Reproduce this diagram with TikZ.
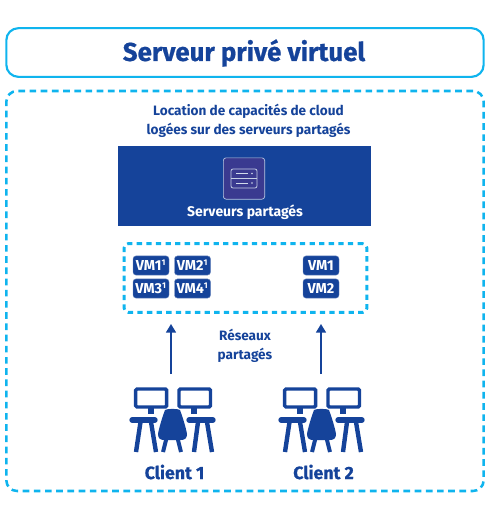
\documentclass[tikz,border=0pt]{standalone}
\usepackage{fontspec}
\setmainfont{Fira Sans}
\newfontfamily\heavyf[BoldFeatures={FakeBold=0.7}]{Fira Sans}
\usetikzlibrary{arrows.meta}
\definecolor{navy}{HTML}{15439A}
\definecolor{sky}{HTML}{0FB4EE}
\definecolor{chip}{HTML}{3A3A90}
\tikzset{
  x=0.75pt,y=-0.75pt,
  titlebox/.style={draw=sky,line width=1.6pt,rounded corners=9pt,fill=white},
  dashbox/.style={draw=sky,line width=1.9pt,dash pattern=on 5pt off 3.4pt,rounded corners=8pt},
  vm/.style={fill=navy,draw=navy!60!white,line width=0.3pt,rounded corners=2.2pt,minimum width=27pt,minimum height=14.4pt,inner sep=0pt,text=white,font=\bfseries\fontsize{10.8}{11}\selectfont},
  lbl/.style={text=navy,font=\bfseries\fontsize{10.2}{14.2}\selectfont,align=center,inner sep=0pt},
  clientlbl/.style={text=navy,font=\heavyf\bfseries\fontsize{13.3}{15}\selectfont,inner sep=0pt},
  arrowline/.style={draw=navy,line width=1.3pt,-{Triangle[length=6.5pt,width=7.5pt]}},
  iconline/.style={draw=navy,line width=3.3pt},
  chairleg/.style={draw=navy,line width=3pt},
  pics/desks/.style={code={
    \draw[draw=navy,line width=2.6pt,rounded corners=1pt] (135.7,389) rectangle (166.7,407);
    \draw[draw=navy,line width=2.6pt,rounded corners=1pt] (179,389) rectangle (210.5,407);
    \fill[navy] (148,408) rectangle (154,414);
    \fill[navy] (191,408) rectangle (197,414);
    \draw[navy,line width=4pt,line cap=round] (132,420) -- (155,420);
    \draw[navy,line width=4pt,line cap=round] (189,420) -- (213,420);
    \draw[iconline] (140.5,422) -- (136,452);
    \draw[iconline] (151,422) -- (156,452);
    \draw[iconline] (198,422) -- (194,452);
    \draw[iconline] (207,422) -- (212,452);
    \draw[chairleg] (166.5,438) -- (163,452);
    \draw[chairleg] (177.5,438) -- (181,452);
    \fill[navy] (165,410) .. controls (167,408.5) and (178,408.5) .. (180,410)
      .. controls (183,418) and (186,428) .. (187,434)
      .. controls (187,438) and (185,440) .. (181,440)
      -- (164,440) .. controls (160,440) and (158,438) .. (158,434)
      .. controls (159,428) and (162,418) .. (165,410) -- cycle;
  }}
}
\newcommand{\vmsup}[1]{#1\textsuperscript{\fontsize{6.2}{6.2}\selectfont 1}}
\begin{document}
\begin{tikzpicture}
\useasboundingbox (0,0) rectangle (490,522);
\node[titlebox,minimum width=358pt,minimum height=36.5pt,inner sep=0pt] (titlebar) at (245,52.5) {};
\node[text=navy,font=\heavyf\bfseries\fontsize{19.4}{21}\selectfont,inner sep=0pt] (title) at (244,53) {Serveur privé virtuel};
\node[dashbox,minimum width=358pt,minimum height=300pt,inner sep=0pt] (outer) at (245,291) {};
\node[lbl] (loc) at (248.5,121) {Location de capacités de cloud\\logées sur des serveurs partagés};
\node[fill=navy,minimum width=190pt,minimum height=60pt,inner sep=0pt] (servers) at (244.5,186) {};
\node[fill=chip,draw=white!70!navy,line width=0.5pt,rounded corners=2pt,minimum width=31pt,minimum height=31pt,inner sep=0pt] (chipbox) at (244,178.5) {};
\draw[white!75!navy,line width=0.6pt,rounded corners=1.5pt] (231,169) rectangle (257,188);
\draw[white!75!navy,line width=0.6pt] (231,178.5) -- (257,178.5);
\draw[white!80!navy,line width=0.6pt] (236,173.5) -- (248,173.5) (236,183) -- (248,183);
\fill[white!80!navy] (252,173.5) circle (0.9) (252,183) circle (0.9);
\node[text=white,font=\bfseries\fontsize{10.5}{12}\selectfont,inner sep=0pt] (servlbl) at (245,212.5) {Serveurs partagés};
\node[dashbox,line width=2.2pt,rounded corners=3pt,dash pattern=on 4pt off 3.2pt,minimum width=182pt,minimum height=51.5pt,inner sep=0pt] (pool) at (245.5,278) {};
\node[vm] (vma) at (151,265.5) {\vmsup{VM1}};
\node[vm] (vmb) at (192.5,265.5) {\vmsup{VM2}};
\node[vm] (vmc) at (151,288.5) {\vmsup{VM3}};
\node[vm] (vmd) at (192.5,288.5) {\vmsup{VM4}};
\node[vm] (vme) at (321,265.5) {VM1};
\node[vm] (vmf) at (321,288.5) {VM2};
\node[lbl] (net) at (245,346) {Réseaux\\partagés};
\coordinate (c1) at (171,374);
\coordinate (c2) at (321,374);
\coordinate (t1) at (171,324);
\coordinate (t2) at (321,324);
\draw[arrowline] (c1) -- (t1);
\draw[arrowline] (c2) -- (t2);
\pic at (0,0) {desks};
\pic at (149,0) {desks};
\node[clientlbl] (cl1) at (174.5,472) {Client 1};
\node[clientlbl] (cl2) at (323.5,472) {Client 2};
\end{tikzpicture}
\end{document}
